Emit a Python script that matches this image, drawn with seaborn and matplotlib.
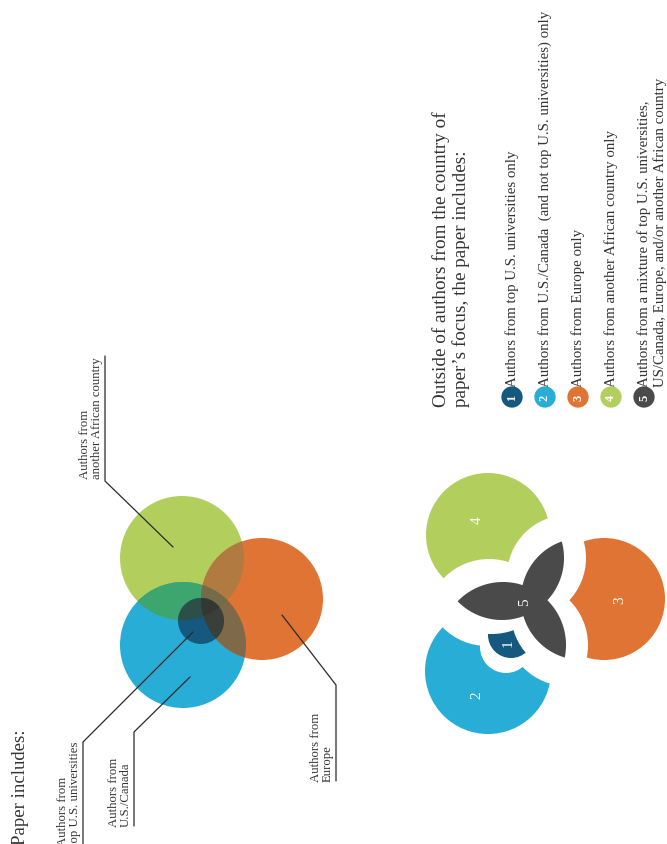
import numpy as np
import pandas as pd
import seaborn as sns
import matplotlib.pyplot as plt
from matplotlib.patches import Circle, Polygon

sns.set_style("white")
plt.rcParams['font.family'] = ['Liberation Serif', 'DejaVu Serif']

# text / data
title_left = "Paper includes:"
title_right = "Outside of authors from the country of\npaper\u2019s focus, the paper includes:"
legend_ids = ["1", "2", "3", "4", "5"]
legend_text = [
    "Authors from top U.S. universities only",
    "Authors from U.S./Canada  (and not top U.S. universities) only",
    "Authors from Europe only",
    "Authors from another African country only",
    "Authors from a mixture of top U.S. universities,\nUS/Canada, Europe, and/or another African country",
]
legend_colors = ["#155a7e", "#27add6", "#e07434", "#b2cf5e", "#4a4a4a"]
venn_labels = ["Authors from\ntop U.S. universities", "Authors from\nU.S./Canada",
               "Authors from\nEurope", "Authors from\nanother African country"]
# overlap shades of the venn
col_gb, col_go, col_bo, col_gbo = "#3da56e", "#b07a40", "#7e6a48", "#736b49"
col_sg, col_so, col_sgo = "#2c4f49", "#3a3f3a", "#333833"

fig = plt.figure(figsize=(6.67, 8.45), dpi=100)
ax = fig.add_axes([0, 0, 1, 1])
ax.set_xlim(0, 667)
ax.set_ylim(845, 0)
ax.axis("off")

# circles (x, y, r) in pixel space
G = (182, 559, 62)
B = (183, 646, 63)
O = (262, 600, 61)
S = (201, 622, 23)


def mv(c, t, dr=0):
    return (c[0] + t[0], c[1] + t[1], c[2] + dr)


def clipper(c, dr=0):
    return Circle(c[:2], c[2] + dr, transform=ax.transData)


def circ(c, color, z=1, clip=None):
    p = Circle(c[:2], c[2], fc=color, ec="none", zorder=z, transform=ax.transData)
    ax.add_patch(p)
    if clip is not None:
        p.set_clip_path(clip)
    return p


def inter_poly(circs, n=1440):
    pts = []
    for i, (cx, cy, r) in enumerate(circs):
        t = np.linspace(0, 2 * np.pi, n, endpoint=False)
        p = np.c_[cx + r * np.cos(t), cy + r * np.sin(t)]
        ok = np.ones(len(p), bool)
        for j, (dx, dy, rr) in enumerate(circs):
            if i != j:
                ok &= np.hypot(p[:, 0] - dx, p[:, 1] - dy) <= rr
        pts.append(p[ok])
    pts = np.vstack(pts)
    c = pts.mean(0)
    a = np.arctan2(pts[:, 1] - c[1], pts[:, 0] - c[0])
    return pts[np.argsort(a)]


# ---- left venn
circ(G, legend_colors[3])
circ(B, legend_colors[1])
circ(O, legend_colors[2])
circ(G, col_gb, 2, clipper(B))
circ(G, col_go, 2, clipper(O))
circ(B, col_bo, 2, clipper(O))
lens = Polygon(inter_poly([G, B]), fc=col_gbo, ec="none", zorder=3)
ax.add_patch(lens)
lens.set_clip_path(clipper(O))
circ(S, legend_colors[0], 4)
circ(S, col_sg, 5, clipper(G))
circ(S, col_so, 5, clipper(O))
sp = Polygon(inter_poly([S, G]), fc=col_sgo, ec="none", zorder=6)
ax.add_patch(sp)
sp.set_clip_path(clipper(O))

# leader lines and labels
lk = dict(color="#2a2a2a", lw=0.9, zorder=8)
leaders = [
    ([193, 83, 83], [633, 743, 845]),
    ([190, 134, 134], [678, 733, 827]),
    ([282, 336, 336], [616, 686, 782]),
    ([173, 105, 105], [548, 482, 357]),
]
label_pos = [(81, 846), (132, 827), (334, 782), (103, 479)]
for (xs, ys), (lx, ly), lab in zip(leaders, label_pos, venn_labels):
    ax.plot(xs, ys, **lk)
    ax.text(lx, ly, lab, rotation=90, rotation_mode="anchor", ha="left", va="bottom",
            fontsize=9.2, color="#333333", linespacing=1.05)

ax.text(29, 845, title_left, rotation=90, rotation_mode="anchor", ha="left", va="bottom",
        fontsize=13.5, color="#333333")

# ---- right exploded diagram
T0 = (320, 0)
TG = (306, -23)
TB = (305, 26)
TO = (342, 0)
T1 = (310, 14)
W = "white"

circ(mv(G, TG), legend_colors[3], 10)
for c in (B, O):
    circ(mv(c, TG), W, 11, clipper(mv(G, TG), 2))
circ(mv(B, TB), legend_colors[1], 10)
for c, dr in ((G, 0), (O, 0), (S, 3)):
    circ(mv(c, TB, dr), W, 11, clipper(mv(B, TB), 2))
circ(mv(O, TO), legend_colors[2], 10)
for c in (G, B):
    circ(mv(c, TO), W, 11, clipper(mv(O, TO), 2))
circ(mv(S, T1), legend_colors[0], 12)
for c in (G, O):
    circ(mv(c, T1), W, 13, clipper(mv(S, T1), 2))
for pair in ((G, B), (G, O), (B, O)):
    poly = inter_poly([mv(pair[0], T0), mv(pair[1], T0)])
    ax.add_patch(Polygon(poly, fc=legend_colors[4], ec="none", zorder=14))

num_pos = [(508, 643), (477, 695), (620, 600), (477, 520), (525, 602)]
for (nx, ny), lab in zip(num_pos, legend_ids):
    ax.text(nx, ny, lab, rotation=90, ha="center", va="center", fontsize=11,
            color="white", zorder=20)

# ---- legend
ax.text(451, 407, title_right, rotation=90, rotation_mode="anchor", ha="left", va="center",
        fontsize=13.8, color="#333333", linespacing=1.2)

leg = pd.DataFrame({"id": legend_ids, "text": legend_text, "color": legend_colors})
leg["x"] = 512 + 33 * np.arange(len(leg))
leg["y"] = 398
sns.scatterplot(data=leg, x="x", y="y", hue="id", palette=legend_colors, s=235,
                edgecolor="none", legend=False, ax=ax, zorder=20)
ax.set_xlim(0, 667)
ax.set_ylim(845, 0)
ax.axis("off")
for i, row in leg.iterrows():
    ax.text(row.x, row.y, row.id, rotation=90, ha="center", va="center", fontsize=9,
            fontweight="bold", color="white", zorder=21)
    tx = row.x + (8 if "\n" in row.text else 0)
    ax.text(tx, 387, row.text, rotation=90, rotation_mode="anchor", ha="left", va="center",
            fontsize=10.7, color="#333333", linespacing=1.2)

fig.savefig("out.png", dpi=100, facecolor="white")
